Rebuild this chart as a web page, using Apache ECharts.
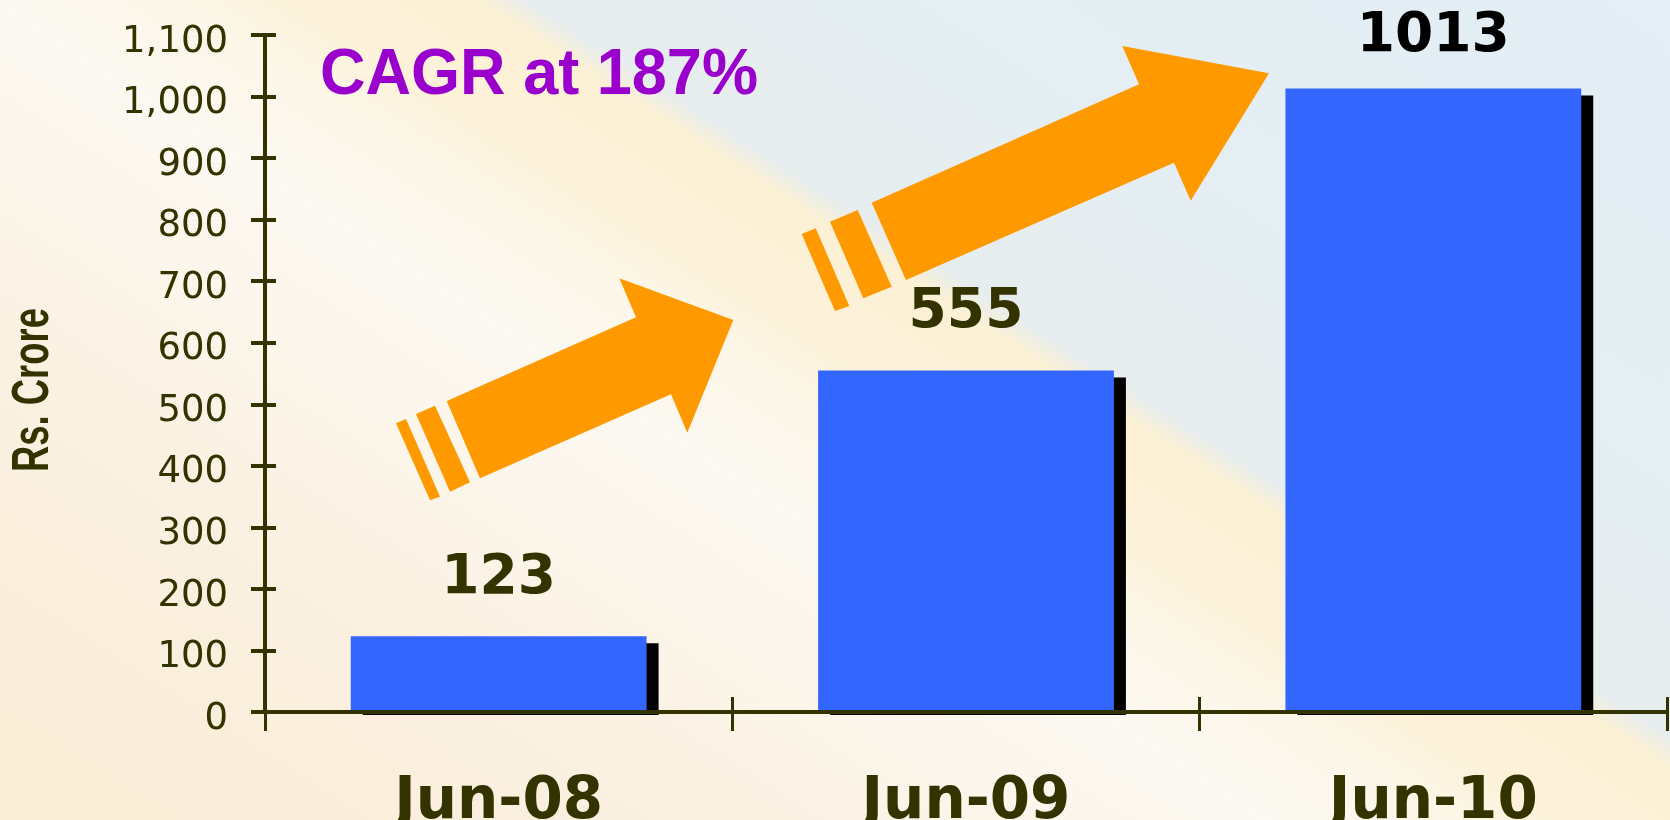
<!DOCTYPE html>
<html>
<head>
<meta charset="utf-8">
<script src="https://cdn.jsdelivr.net/npm/echarts@6/dist/echarts.min.js"></script>
<style>
html,body{margin:0;padding:0;width:1670px;height:820px;overflow:hidden;}
#chart{width:1670px;height:820px;}
</style>
</head>
<body>
<div id="chart"></div>
<script>
// ---- data ----
const categories = ['Jun-08', 'Jun-09', 'Jun-10'];
const values = [123, 555, 1013];
const yTicks = [0, 100, 200, 300, 400, 500, 600, 700, 800, 900, 1000, 1100];
const yAxisName = 'Rs. Crore';
const titleText = 'CAGR at 187%';

// ---- styles ----
const labelColors = ['#333300', '#333300', '#000000'];
const labelDistances = [30, 30, 24];
const axisColor = '#333300';
const BAR_RATIO = 0.633;

const chart = echarts.init(document.getElementById('chart'), null, {renderer: 'canvas'});

// decorative arrows (pixel positions)
const orange = '#FF9900';
const arrowShapes = [
  [[446.7,401],[636,317.3],[619.3,278.3],[733.3,320],[687.3,432.7],[671,394.3],[480,478.3]],
  [[416,414],[435,405.7],[470,482.3],[450,491.7]],
  [[396,423.3],[406,419],[440,496.7],[430,500.3]],
  [[871.7,202.7],[1139,84.3],[1122.3,46],[1269,73.3],[1190.7,200.7],[1174,162.7],[906,280]],
  [[830,221.7],[857.7,210],[891.7,286.7],[863.3,298.3]],
  [[801.7,234],[815.7,228.3],[849.3,306],[835,311]]
];

const graphics = arrowShapes.map(pts => ({
  type: 'polygon',
  shape: {points: pts},
  style: {fill: orange},
  z: 5
}));
graphics.push({
  type: 'text',
  x: 320, y: 76,
  scaleX: 0.97,
  style: {
    text: titleText,
    fill: '#9900CC',
    font: 'bold 65px "Liberation Sans", Arial, sans-serif',
    textAlign: 'left',
    textVerticalAlign: 'middle'
  },
  z: 6
});
graphics.push({
  type: 'text',
  x: 34, y: 390,
  rotation: Math.PI / 2,
  scaleX: 0.70,
  style: {
    text: yAxisName,
    fill: axisColor,
    font: 'bold 52px "Liberation Sans", Arial, sans-serif',
    textAlign: 'center',
    textVerticalAlign: 'middle'
  },
  z: 6
});

const yMin = yTicks[0], yMax = yTicks[yTicks.length - 1], yInt = yTicks[1] - yTicks[0];

const option = {
  animation: false,
  backgroundColor: {
    type: 'linear',
    global: true,
    x: -373, y: 580, x2: 488.5, y2: -759,
    colorStops: [
      {offset: 0.0, color: '#FAECD5'},
      {offset: 0.25, color: '#FBF1E2'},
      {offset: 0.43, color: '#FCF9F2'},
      {offset: 0.50, color: '#FCF6E6'},
      {offset: 0.53, color: '#FDF2DA'},
      {offset: 0.595, color: '#FCF0D5'},
      {offset: 0.612, color: '#E6EDEE'},
      {offset: 0.75, color: '#E4EEF3'},
      {offset: 1.0, color: '#E3EEF5'}
    ]
  },
  grid: {left: 265, right: 3, top: 35, bottom: 108, containLabel: false, outerBoundsMode: 'none'},
  xAxis: [{
    type: 'category',
    data: categories,
    position: 'bottom',
    z: 3,
    axisLine: {show: true, lineStyle: {color: axisColor, width: 4}},
    axisTick: {show: true, inside: false, length: 19, lineStyle: {color: axisColor, width: 3}},
    axisLabel: {
      color: axisColor, fontFamily: '"DejaVu Sans", sans-serif', fontWeight: 'bold',
      fontSize: 58, margin: 62
    },
    splitLine: {show: false}
  }, {
    type: 'category',
    data: categories,
    position: 'bottom',
    z: 3,
    axisLine: {show: false},
    axisTick: {show: true, inside: true, length: 15, lineStyle: {color: axisColor, width: 3}},
    axisLabel: {show: false},
    splitLine: {show: false}
  }],
  yAxis: [{
    type: 'value',
    min: yMin, max: yMax, interval: yInt,
    position: 'left',
    z: 3,
    axisLine: {show: true, lineStyle: {color: axisColor, width: 4}},
    axisTick: {show: true, inside: false, length: 14, lineStyle: {color: axisColor, width: 4}},
    axisLabel: {
      color: axisColor, fontFamily: '"DejaVu Sans", sans-serif', fontSize: 37,
      margin: 37, verticalAlign: 'top', lineHeight: 14,
      formatter: v => v.toLocaleString('en-US')
    },
    splitLine: {show: false}
  }, {
    type: 'value',
    min: yMin, max: yMax, interval: yInt,
    position: 'left',
    z: 3,
    axisLine: {show: false},
    axisTick: {show: true, inside: true, length: 11, lineStyle: {color: axisColor, width: 4}},
    axisLabel: {show: false},
    splitLine: {show: false}
  }],
  series: [{
    type: 'custom',
    xAxisIndex: 0, yAxisIndex: 0,
    z: 1,
    silent: true,
    data: values.map((v, i) => [i, v]),
    renderItem: function (params, api) {
      const idx = api.value(0), v = api.value(1);
      const top = api.coord([idx, v]);
      const base = api.coord([idx, 0]);
      const bw = api.size([1, 0])[0] * BAR_RATIO;
      const y0 = top[1] + 7;
      return {
        type: 'rect',
        shape: {x: top[0] - bw / 2 + 12, y: y0, width: bw, height: base[1] + 3 - y0},
        style: {fill: '#000000'}
      };
    }
  }, {
    type: 'bar',
    xAxisIndex: 0, yAxisIndex: 0,
    z: 2,
    barWidth: (BAR_RATIO * 100) + '%',
    itemStyle: {color: '#3366FF'},
    data: values.map((v, i) => ({
      value: v,
      label: {
        show: true, position: 'top', distance: labelDistances[i],
        color: labelColors[i],
        fontFamily: '"DejaVu Sans", sans-serif', fontWeight: 'bold', fontSize: 55
      }
    }))
  }],
  graphic: graphics
};

chart.setOption(option);
</script>
</body>
</html>
